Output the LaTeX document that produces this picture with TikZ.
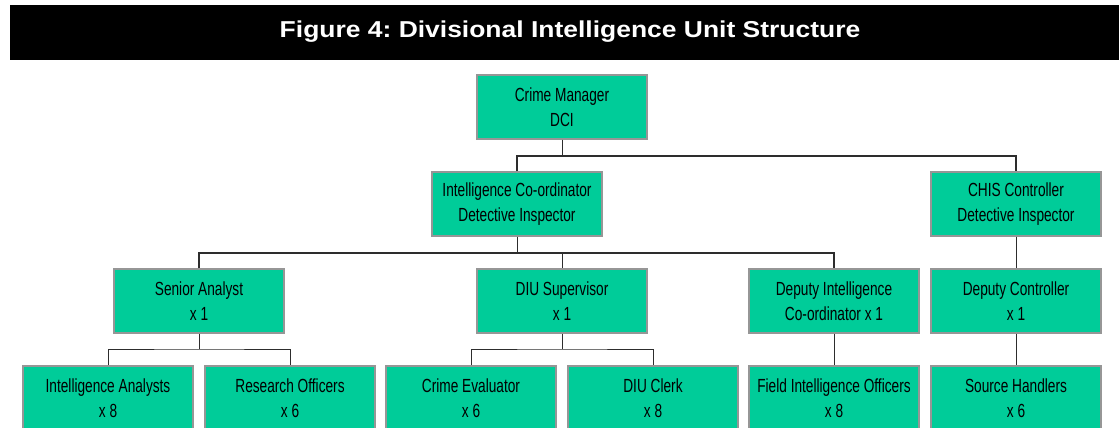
\documentclass[tikz,border=0pt]{standalone}
\usepackage{fontspec}
\setmainfont{Liberation Sans}
\newfontfamily\narrowfont[FakeStretch=0.72]{Liberation Sans}
\newfontfamily\titlefont[FakeStretch=1.15]{Liberation Sans}
\definecolor{boxgreen}{RGB}{0,204,153}
\definecolor{boxedge}{RGB}{150,150,150}
\definecolor{linkcol}{RGB}{45,45,45}
\frenchspacing
\begin{document}
\begin{tikzpicture}[x=1pt,y=-1pt,
  orgbox/.style={draw=boxedge,line width=1.2pt,fill=boxgreen,minimum width=170pt,minimum height=64pt,
    inner sep=0pt,align=center,font=\narrowfont\fontsize{19}{25}\selectfont},
  thinlink/.style={draw=linkcol,line width=1pt},
  thicklink/.style={draw=linkcol,line width=1.6pt}]
\useasboundingbox (0,0) rectangle (1119,428);
\clip (0,0) rectangle (1119,428);
\fill[black] (10,5) rectangle (1119,60);
\node[text=white,font=\titlefont\bfseries\fontsize{23}{28}\selectfont] (title) at (570,32) {Figure 4: Divisional Intelligence Unit Structure};
% boxes
\node[orgbox] (cm) at (562,107) {Crime Manager\\DCI};
\node[orgbox] (ic) at (517,204) {Intelligence Co-ordinator\\Detective Inspector};
\node[orgbox] (chis) at (1016,204) {CHIS Controller\\Detective Inspector};
\node[orgbox] (sa) at (199,301) {Senior Analyst\\x 1};
\node[orgbox] (diu) at (562,301) {DIU Supervisor\\x 1};
\node[orgbox] (dic) at (834,301) {Deputy Intelligence\\Co-ordinator x 1};
\node[orgbox] (dc) at (1016,301) {Deputy Controller\\x 1};
\node[orgbox] (ia) at (108,398) {Intelligence Analysts\\x 8};
\node[orgbox] (ro) at (290,398) {Research Officers\\x 6};
\node[orgbox] (ce) at (471,398) {Crime Evaluator\\x 6};
\node[orgbox] (clerk) at (653,398) {DIU Clerk\\x 8};
\node[orgbox] (fio) at (834,398) {Field Intelligence Officers\\x 8};
\node[orgbox] (sh) at (1016,398) {Source Handlers\\x 6};
% junctions
\coordinate (j1) at (562,156);
\coordinate (j2) at (517,253);
\coordinate (j3) at (199,349);
\coordinate (j4) at (562,349);
% connectors
\draw[thinlink] (cm.south) -- (j1);
\draw[thicklink] (ic.north) |- (j1) -| (chis.north);
\draw[thinlink] (ic.south) -- (j2);
\draw[thicklink] (sa.north) |- (j2) -| (dic.north);
\draw[thinlink] (j2 -| diu.north) -- (diu.north);
\draw[thinlink] (chis.south) -- (dc.north);
\draw[thinlink] (dc.south) -- (sh.north);
\draw[thinlink] (dic.south) -- (fio.north);
\draw[thinlink] (sa.south) -- (j3);
\draw[thinlink] (ia.north) |- (j3) -| (ro.north);
\draw[thinlink] (diu.south) -- (j4);
\draw[thinlink] (ce.north) |- (j4) -| (clerk.north);
\end{tikzpicture}
\end{document}
